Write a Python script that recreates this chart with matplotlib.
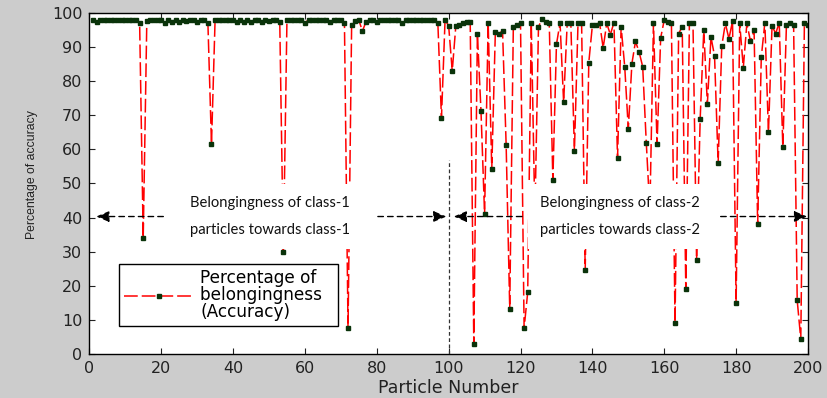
import matplotlib
matplotlib.use("Agg")
import matplotlib.pyplot as plt
import numpy as np

# Percentual de pertinência de cada partícula (1..200)
particulas = np.arange(1, 201)

acuracia_classe1 = [
    98.0, 97.3, 98.0, 98.0, 98.0, 98.0, 98.0, 98.0, 98.0, 98.0,
    98.0, 98.0, 98.0, 97.2, 34.0, 97.6, 98.0, 98.0, 98.0, 98.0,
    97.0, 98.0, 97.3, 98.0, 97.3, 98.0, 97.6, 98.0, 98.0, 97.4,
    98.0, 98.0, 97.2, 61.5, 98.0, 98.0, 98.0, 98.0, 98.0, 98.0,
    97.5, 98.0, 97.3, 98.0, 97.4, 98.0, 98.0, 97.5, 98.0, 97.6,
    98.0, 98.0, 97.3, 29.8, 98.0, 98.0, 98.0, 98.0, 98.0, 97.2,
    98.0, 98.0, 98.0, 98.0, 98.0, 98.0, 97.3, 98.0, 98.0, 98.0,
    97.2, 7.5, 96.5, 97.8, 98.0, 94.7, 97.5, 98.0, 98.0, 97.3,
    98.0, 98.0, 98.0, 98.0, 98.0, 98.0, 97.2, 98.0, 98.0, 98.0,
    98.0, 98.0, 98.0, 98.0, 98.0, 98.0, 97.0, 69.2, 98.0,
]

acuracia_classe2 = [
    96.3, 83.0, 96.3, 96.6, 97.0, 97.5, 97.5, 3.0, 94.0, 71.3,
    41.0, 97.2, 54.3, 94.6, 94.0, 94.8, 61.4, 13.3, 96.0, 96.6,
    97.2, 7.5, 18.0, 97.0, 40.0, 96.0, 98.3, 97.5, 97.0, 51.0,
    90.8, 97.2, 73.8, 97.2, 97.2, 59.5, 97.0, 97.2, 24.5, 85.5,
    96.4, 96.6, 97.2, 89.8, 97.0, 93.7, 97.2, 57.5, 96.0, 84.3,
    66.0, 85.2, 91.7, 88.6, 84.3, 62.0, 42.0, 97.0, 61.5, 92.7,
    98.0, 97.5, 97.0, 9.0, 94.0, 96.0, 19.0, 97.2, 97.0, 27.4,
    69.0, 95.0, 73.4, 93.0, 87.4, 56.0, 90.3, 97.0, 92.5, 97.6,
    15.0, 97.0, 84.0, 97.0, 91.7, 95.0, 38.0, 87.0, 97.2, 65.0,
    96.3, 94.0, 97.2, 60.6, 96.4, 97.2, 96.6, 15.7, 4.3, 97.0,
    96.5,
]

acuracia = acuracia_classe1 + acuracia_classe2

FUNDO = "#cccccc"
VERMELHO = "#ff0000"
MARCADOR = "#0a330a"
TEXTO = "#222222"

figura = plt.figure(figsize=(8.27, 3.98), dpi=100, facecolor=FUNDO)
eixo = figura.add_axes([0.108, 0.111, 0.869, 0.856])

eixo.plot(particulas, acuracia, color=VERMELHO, lw=1.1,
          linestyle=(0, (9, 2.6)), marker="s", markersize=2.2,
          markerfacecolor=MARCADOR, markeredgecolor=MARCADOR,
          label="Percentage of\nbelongingness  \n(Accuracy)", zorder=2)

eixo.set_xlim(0, 200)
eixo.set_ylim(0, 100)
eixo.set_xticks(np.arange(0, 201, 20))
eixo.set_yticks(np.arange(0, 101, 10))
eixo.tick_params(direction="in", top=True, right=True, length=4,
                 labelsize=11.5, pad=5, colors=TEXTO)
for lado in eixo.spines.values():
    lado.set_linewidth(1.0)

eixo.set_xlabel("Particle Number", fontsize=12.5, labelpad=2, color=TEXTO)
eixo.set_ylabel("Percentage of accuracy", fontsize=8.8, color=TEXTO,
                family="Liberation Sans")
eixo.yaxis.set_label_coords(-0.071, 0.525)

# linha divisória entre as classes
eixo.plot([100, 100], [0, 57], color="#333333", lw=0.9,
          linestyle=(0, (3, 2)), zorder=4)

# setas tracejadas indicando as regiões de cada classe
seta = dict(arrowstyle="-|>,head_length=0.6,head_width=0.25", color="black",
            lw=1.0, linestyle=(0, (4, 3)), mutation_scale=13,
            shrinkA=0, shrinkB=0)
for inicio, fim in [(20.6, 1.9), (80.3, 99.4), (120.4, 101.4), (175.7, 199.8)]:
    eixo.annotate("", xy=(fim, 40.3), xytext=(inicio, 40.3),
                  arrowprops=seta, zorder=4)

caixa = dict(facecolor="white", edgecolor="none", boxstyle="square,pad=0.85")
for x_centro, classe in [(50.3, "class-1"), (147.7, "class-2")]:
    eixo.text(x_centro, 40.3,
              f"Belongingness of {classe}\nparticles towards {classe}",
              ha="center", va="center", multialignment="center",
              family="Lato", fontsize=10.6, linespacing=2.1,
              color="#111111", bbox=caixa, zorder=3)

legenda = eixo.legend(loc="lower left", bbox_to_anchor=(0.041, 0.082),
                      fontsize=12.2, handlelength=4.1, handletextpad=0.42,
                      borderpad=0.3, borderaxespad=0, fancybox=False,
                      framealpha=1, edgecolor="black")
legenda.get_frame().set_linewidth(1.0)
legenda.get_texts()[0].set_linespacing(0.93)
legenda.set_zorder(5)

figura.savefig("out.png", dpi=100, facecolor=FUNDO)
plt.close(figura)
